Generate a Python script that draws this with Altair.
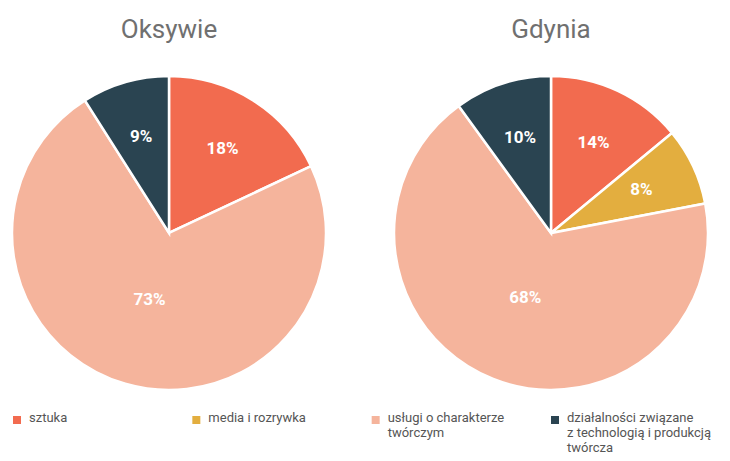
import altair as alt
import pandas as pd

categories = ["sztuka", "media i rozrywka", "usługi o charakterze twórczym",
              "działalności związane z technologią i produkcją twórcza"]
legend_labels = ["sztuka", "media i rozrywka", "usługi o charakterze\ntwórczym",
                 "działalności związane\nz technologią i produkcją\ntwórcza"]
colors = ["#F26B4F", "#E3AE3F", "#F5B49C", "#2A4451"]
regions = ["Oksywie", "Gdynia"]
oksywie_values = [18, 0, 73, 9]
gdynia_values = [14, 8, 68, 10]

rows = []
for reg, vals in zip(regions, [oksywie_values, gdynia_values]):
    for i, (c, v) in enumerate(zip(categories, vals)):
        rows.append({"region": reg, "cat": c, "idx": i, "value": v, "label": f"{v}%"})
df = pd.DataFrame(rows)
df = df[df["value"] > 0]

leg = pd.DataFrame({"cat": categories, "text": legend_labels})

color = alt.Color("cat:N", scale=alt.Scale(domain=categories, range=colors), legend=None)

R = 157
centers = {"Oksywie": (161, 225), "Gdynia": (543, 225)}

layers = []
for reg in regions:
    cx, cy = centers[reg]
    base = alt.Chart(df).transform_filter(alt.datum.region == reg)
    pie = base.mark_arc(radius=R, stroke="white", strokeWidth=2.5).encode(
        theta=alt.Theta("value:Q", stack=True),
        color=color,
        order=alt.Order("idx:Q"),
        x=alt.value(cx), y=alt.value(cy),
    )
    lbl = base.transform_window(
        cum="sum(value)", sort=[alt.SortField("idx")], frame=[None, 0]
    ).transform_calculate(
        mid="datum.cum - datum.value / 2",
        lr="datum.value > 50 ? 70 : 100"
    ).mark_text(font="Roboto", fontSize=17, fontWeight="bold", color="white").encode(
        theta=alt.Theta("mid:Q", stack=None,
                        scale=alt.Scale(domain=[0, 100], range=[0, 6.283185307179586])),
        radius=alt.Radius("lr:Q", scale=None),
        text="label:N",
        x=alt.value(cx), y=alt.value(cy),
    )
    title = alt.Chart(pd.DataFrame({"region": [reg]})).mark_text(
        font="Roboto", fontSize=26, color="#707070", baseline="alphabetic"
    ).encode(text="region:N", x=alt.value(cx), y=alt.value(30))
    layers += [alt.layer(pie, lbl).resolve_scale(theta="independent"), title]

xleg = alt.X("cat:N", sort=categories,
             scale=alt.Scale(type="point", domain=categories, range=[9, 547], padding=0),
             axis=None)
sq = alt.Chart(leg).mark_square(size=64, opacity=1).encode(
    x=xleg, y=alt.value(412), color=color)
txt = alt.Chart(leg).mark_text(
    font="Roboto", fontSize=13, color="#555555", align="left", baseline="top",
    lineBreak="\n", lineHeight=15, dx=12
).encode(x=xleg, y=alt.value(404), text="text:N")

chart = alt.layer(*layers, sq, txt).resolve_scale(theta="independent").properties(
    width=714, height=448, autosize=alt.AutoSizeParams(type="none"), padding=0
).configure_view(strokeWidth=0)

chart.save("out.html", embed_options={"renderer": "svg", "actions": False})
